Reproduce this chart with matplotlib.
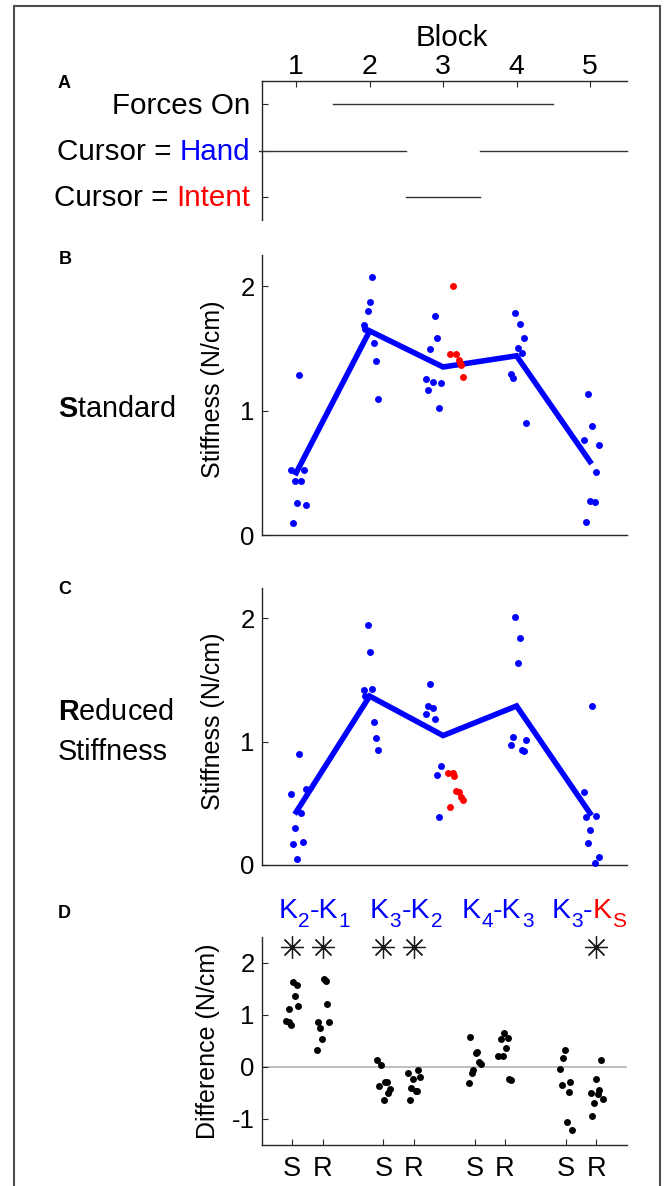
import numpy as np
import matplotlib
matplotlib.use('Agg')
import matplotlib.pyplot as plt
from matplotlib.patches import Rectangle

plt.rcParams['font.family'] = ['Liberation Sans', 'DejaVu Sans']
plt.rcParams['mathtext.fontset'] = 'custom'
plt.rcParams['mathtext.rm'] = 'Liberation Sans'
plt.rcParams['mathtext.it'] = 'Liberation Sans:italic'
plt.rcParams['mathtext.bf'] = 'Liberation Sans:bold'
plt.rcParams['axes.unicode_minus'] = False

# ---------------- data ----------------
blocks = [1, 2, 3, 4, 5]
block_labels = ['1', '2', '3', '4', '5']

# Panel A: condition timeline (block ranges)
row_positions = [1, 2, 3]
forces_on = [(1.5, 4.5)]
cursor_hand = [(0.5, 2.5), (3.5, 5.5)]
cursor_intent = [(2.5, 3.5)]

# Panel B: standard stiffness (jitter offset, value) per block
std_jitter = [
    [-0.073, -0.014, 0.068, 0.100, 0.040, 0.009, 0.127, -0.045],
    [-0.082, -0.059, 0.032, 0.000, -0.023, 0.064, 0.091, 0.118],
    [-0.227, -0.200, -0.141, -0.027, -0.172, -0.113, -0.086, -0.059],
    [-0.018, 0.041, 0.095, 0.014, 0.068, -0.073, -0.050, 0.127],
    [-0.032, 0.032, -0.086, 0.118, 0.086, 0.000, 0.063, -0.059],
]
std_values = [
    [0.524, 0.435, 0.430, 0.524, 1.282, 0.255, 0.242, 0.094],
    [1.685, 1.659, 2.070, 1.876, 1.798, 1.540, 1.395, 1.094],
    [1.250, 1.164, 1.228, 1.218, 1.497, 1.761, 1.581, 1.022],
    [1.782, 1.699, 1.581, 1.500, 1.465, 1.296, 1.263, 0.903],
    [1.132, 0.879, 0.766, 0.723, 0.508, 0.274, 0.266, 0.108],
]
std_mean = [0.50, 1.64, 1.35, 1.44, 0.59]
std_intent_jitter = [0.132, 0.100, 0.181, 0.213, 0.240, 0.228, 0.272]
std_intent_values = [1.997, 1.452, 1.452, 1.406, 1.368, 1.385, 1.266]

# Panel C: reduced stiffness
red_jitter = [
    [-0.073, 0.041, 0.127, -0.014, -0.045, 0.095, 0.014, 0.068],
    [-0.023, 0.000, -0.082, 0.032, -0.059, 0.064, 0.091, 0.118],
    [-0.172, -0.200, -0.141, -0.227, -0.113, -0.027, -0.086, -0.059],
    [-0.018, 0.041, 0.014, -0.050, 0.127, -0.073, 0.068, 0.095],
    [0.032, -0.086, -0.059, 0.086, 0.000, -0.032, 0.118, 0.063],
]
red_values = [
    [0.573, 0.902, 0.619, 0.301, 0.172, 0.188, 0.046, 0.425],
    [1.949, 1.731, 1.419, 1.427, 1.373, 1.160, 1.031, 0.934],
    [1.467, 1.287, 1.276, 1.225, 1.184, 0.800, 0.732, 0.390],
    [2.013, 1.841, 1.639, 1.042, 1.015, 0.972, 0.934, 0.921],
    [1.287, 0.592, 0.390, 0.401, 0.283, 0.180, 0.067, 0.013],
]
red_mean = [0.43, 1.37, 1.05, 1.29, 0.42]
red_intent_jitter = [0.068, 0.132, 0.154, 0.181, 0.213, 0.240, 0.272, 0.100]
red_intent_values = [0.746, 0.746, 0.719, 0.600, 0.592, 0.552, 0.530, 0.471]

# Panel D: differences
diff_positions = [1, 2, 4, 5, 7, 8, 10, 11]
diff_ticklabels = ['S', 'R', 'S', 'R', 'S', 'R', 'S', 'R']
diff_jitter = [
    [0.033, 0.164, 0.087, -0.087, 0.208, -0.197, -0.109, -0.022],
    [0.044, 0.098, 0.142, -0.142, 0.208, -0.077, -0.033, -0.197],
    [-0.197, -0.077, 0.044, 0.109, -0.142, 0.208, 0.153, 0.033],
    [0.153, -0.186, 0.197, -0.033, -0.077, 0.066, 0.109, -0.131],
    [-0.142, 0.044, 0.087, 0.153, 0.208, -0.044, -0.087, -0.197],
    [-0.022, -0.142, 0.087, 0.033, -0.219, -0.077, 0.142, 0.208],
    [-0.033, -0.098, -0.208, 0.142, -0.142, 0.087, 0.033, 0.197],
    [0.164, -0.022, 0.098, -0.186, 0.055, 0.219, -0.066, -0.131],
]
diff_values = [
    [1.632, 1.568, 1.359, 1.117, 1.168, 0.876, 0.851, 0.800],
    [1.683, 1.651, 1.200, 0.851, 0.851, 0.737, 0.527, 0.317],
    [0.127, 0.044, -0.286, -0.292, -0.368, -0.432, -0.495, -0.635],
    [-0.070, -0.121, -0.190, -0.235, -0.413, -0.463, -0.470, -0.635],
    [0.565, 0.273, 0.286, 0.095, 0.051, -0.070, -0.114, -0.305],
    [0.654, 0.527, 0.552, 0.368, 0.216, 0.210, -0.241, -0.254],
    [0.317, 0.178, -0.044, -0.286, -0.343, -0.489, -1.060, -1.219],
    [0.140, -0.241, -0.438, -0.495, -0.527, -0.610, -0.698, -0.952],
]
significant = [True, True, True, True, False, False, False, True]
star_level = 2.3
# comparison labels: (main letter, subscript) pieces with colours
comparison_starts = [0.54, 3.56, 6.57, 9.53]
comparison_pieces = [
    [('K', '2', '#0000FF'), ('-K', '1', '#0000FF')],
    [('K', '3', '#0000FF'), ('-K', '2', '#0000FF')],
    [('K', '4', '#0000FF'), ('-K', '3', '#0000FF')],
    [('K', '3', '#0000FF'), ('-', '', '#0000FF'), ('K', 'S', '#FF0000')],
]
label_level = 2.86

BLUE = '#0000FF'
RED = '#FF0000'
SPINE = '#262626'

# ---------------- figure ----------------
fig = plt.figure(figsize=(6.7, 11.86), dpi=100)
L, W = 0.3906, 0.5448
axA = fig.add_axes([L, 0.8145, W, 0.1172])
axB = fig.add_axes([L, 0.5489, W, 0.2361])
axC = fig.add_axes([L, 0.2707, W, 0.2338])
axD = fig.add_axes([L, 0.0346, W, 0.1757])

# frame
fig.patches.append(Rectangle((14 / 670, -0.05), 646 / 670, 1 - 6 / 1186 + 0.05,
                             transform=fig.transFigure, fill=False,
                             ec='#4d4d4d', lw=1.5, clip_on=False))

# ---------- Panel A ----------
ax = axA
ax.set_xlim(0.53, 5.5)
ax.set_ylim(3.5, 0.5)
for s in ['right', 'bottom']:
    ax.spines[s].set_visible(False)
for s in ['top', 'left']:
    ax.spines[s].set_color(SPINE)
    ax.spines[s].set_linewidth(1.0)
ax.xaxis.tick_top()
ax.set_xticks(blocks)
ax.set_xticklabels(block_labels, fontsize=20.5)
ax.tick_params(axis='x', direction='in', length=4, pad=0.5, colors=SPINE, labelcolor='black')
ax.set_yticks(row_positions)
ax.set_yticklabels([])
ax.tick_params(axis='y', direction='in', length=4, colors=SPINE)
for rng_list, row in [(forces_on, 1), (cursor_hand, 2), (cursor_intent, 3)]:
    for a, b in rng_list:
        ax.plot([a, b], [row, row], color='#333333', lw=1.0, clip_on=False)

fsA = 21.3
row_parts = [[('Forces On', 'black')],
             [('Cursor = ', 'black'), ('Hand', BLUE)],
             [('Cursor = ', 'black'), ('Intent', RED)]]
for row, parts in zip(row_positions, row_parts):
    prev = None
    for txt, col in reversed(parts):
        if prev is None:
            prev = ax.annotate(txt, xy=(0, row), xycoords=ax.get_yaxis_transform(),
                               xytext=(-8, -1), textcoords='offset points',
                               ha='right', va='center', fontsize=fsA, color=col)
        else:
            prev = ax.annotate(txt, xy=(0, 0), xycoords=prev,
                               ha='right', va='bottom', fontsize=fsA, color=col)
fig.text(452 / 670, 1 - 46 / 1186, 'Block', ha='center', va='baseline', fontsize=fsA)

# ---------- Panels B and C ----------
def stiffness_panel(ax, jitter, values, mean, ij, iv):
    ax.set_xlim(0.53, 5.5)
    ax.set_ylim(0, 2.25)
    for s in ['right', 'top']:
        ax.spines[s].set_visible(False)
    for s in ['left', 'bottom']:
        ax.spines[s].set_color(SPINE)
        ax.spines[s].set_linewidth(1.0)
    ax.set_xticks([])
    ax.set_yticks([0, 1, 2])
    ax.set_yticklabels(['0', '1', '2'], fontsize=18.5)
    ax.tick_params(axis='y', direction='in', length=4, pad=5, colors=SPINE, labelcolor='black')
    ax.plot(blocks, mean, color=BLUE, lw=4.0, solid_joinstyle='miter', zorder=2)
    for i, b in enumerate(blocks):
        ax.plot(b + np.array(jitter[i]), values[i], 'o', color=BLUE, ms=5,
                mec='none', zorder=3, clip_on=False)
    ax.plot(3 + np.array(ij), iv, 'o', color=RED, ms=5, mec='none', zorder=4)
    ax.set_ylabel('Stiffness (N/cm)', fontsize=18)
    ax.yaxis.set_label_coords(-0.10, 0.52)

stiffness_panel(axB, std_jitter, std_values, std_mean, std_intent_jitter, std_intent_values)
stiffness_panel(axC, red_jitter, red_values, red_mean, red_intent_jitter, red_intent_values)

fig.text(58 / 670, 1 - 417 / 1186, r'$\mathbf{S}$tandard', fontsize=20.8, ha='left', va='baseline')
fig.text(58 / 670, 1 - 720 / 1186, r'$\mathbf{R}$educed', fontsize=20.8, ha='left', va='baseline')
fig.text(58 / 670, 1 - 760 / 1186, 'Stiffness', fontsize=20.8, ha='left', va='baseline')

# ---------- Panel D ----------
ax = axD
ax.set_xlim(0, 12)
ax.set_ylim(-1.5, 2.5)
for s in ['right', 'top']:
    ax.spines[s].set_visible(False)
for s in ['left', 'bottom']:
    ax.spines[s].set_color(SPINE)
    ax.spines[s].set_linewidth(1.0)
ax.axhline(0, color='#b3b3b3', lw=1.2, zorder=1)
for i, p in enumerate(diff_positions):
    ax.plot(p + np.array(diff_jitter[i]), diff_values[i], 'o', color='black',
            ms=5, mec='none', zorder=3)
    if significant[i]:
        ax.plot([p], [star_level], marker=(8, 2, 0), ms=16, mew=0.9,
                color='#1a1a1a', zorder=3, clip_on=False)
ax.set_xticks(diff_positions)
ax.set_xticklabels(diff_ticklabels, fontsize=19.5)
ax.tick_params(axis='x', direction='in', length=4, pad=8, colors=SPINE, labelcolor='black')
ax.set_yticks([-1, 0, 1, 2])
ax.set_yticklabels(['-1', '0', '1', '2'], fontsize=18.5)
ax.tick_params(axis='y', direction='in', length=4, pad=5, colors=SPINE, labelcolor='black')
ax.set_ylabel('Difference (N/cm)', fontsize=18)
ax.yaxis.set_label_coords(-0.114, 0.5)

FS_MAIN, FS_SUB, SUB_DROP = 20.5, 15, -6.5
for x0, pieces in zip(comparison_starts, comparison_pieces):
    prev = None
    for main, sub, col in pieces:
        if prev is None:
            prev = ax.text(x0, label_level, main, ha='left', va='baseline',
                           fontsize=FS_MAIN, color=col, clip_on=False)
        else:
            prev = ax.annotate(main, xy=(1, label_level), xycoords=(prev, ax.transData),
                               ha='left', va='baseline', fontsize=FS_MAIN, color=col,
                               annotation_clip=False)
        if sub:
            prev = ax.annotate(sub, xy=(1, label_level), xycoords=(prev, ax.transData),
                               xytext=(0.5, SUB_DROP), textcoords='offset points',
                               ha='left', va='baseline', fontsize=FS_SUB, color=col,
                               annotation_clip=False)

# panel letters
for letter, (px, py) in zip('ABCD', [(64, 83), (65, 259), (65, 589), (64, 913)]):
    fig.text(px / 670, 1 - py / 1186, letter, fontsize=13, fontweight='bold',
             ha='center', va='center')

fig.savefig('out.png', dpi=100)
